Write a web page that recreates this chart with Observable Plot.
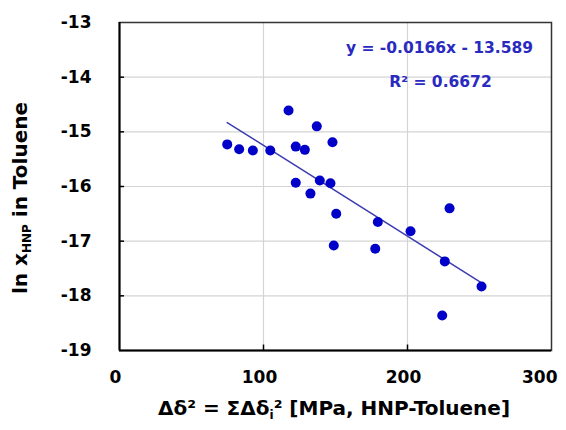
<!DOCTYPE html>
<html>
<head>
<meta charset="utf-8">
<script src="https://cdn.jsdelivr.net/npm/d3@7"></script>
<script src="https://cdn.jsdelivr.net/npm/@observablehq/plot@0.6"></script>
<style>
  html, body { margin: 0; padding: 0; background: #fff; }
  #chart { width: 566px; height: 430px; }
</style>
</head>
<body>
<div id="chart"></div>
<script>
// Δδ² values (x) and ln x_HNP (y)
const deltaSq = [74.8, 83.1, 92.6, 104.7, 117.4, 122.4, 128.7, 137.0, 147.9, 122.4, 132.6,
                 139.1, 146.5, 150.5, 148.8, 179.4, 177.6, 202.1, 229.2, 225.9, 224.1, 251.4];
const lnX = [-15.23, -15.32, -15.34, -15.34, -14.61, -15.27, -15.33, -14.90, -15.19, -15.93, -16.13,
             -15.89, -15.94, -16.50, -17.08, -16.65, -17.14, -16.82, -16.40, -17.37, -18.36, -17.83];
const fitSlope = -0.0166;
const fitIntercept = -13.589;
const fitLabels = ["y = -0.0166x - 13.589", "R² = 0.6672"];
const xTicks = [0, 100, 200, 300];
const yTicks = [-13, -14, -15, -16, -17, -18, -19];

const points = deltaSq.map((x, i) => ({x, y: lnX[i]}));
const xMin = d3.min(deltaSq), xMax = d3.max(deltaSq);
const fitLine = [xMin, xMax].map(x => ({x, y: fitSlope * x + fitIntercept}));

const font = "'DejaVu Sans', Verdana, sans-serif";
const blue = "#0000c8";

const svg = Plot.plot({
  width: 566,
  height: 430,
  marginLeft: 119,
  marginRight: 15,
  marginTop: 22,
  marginBottom: 80,
  style: {fontFamily: font, fontSize: "17px", fontWeight: "bold", color: "#000", background: "#fff"},
  x: {domain: [0, 300]},
  y: {domain: [-19, -13]},
  marks: [
    Plot.gridX([100, 200], {stroke: "#d4d4d4", strokeOpacity: 1, strokeWidth: 1.2}),
    Plot.gridY([-14, -15, -16, -17, -18], {stroke: "#d4d4d4", strokeOpacity: 1, strokeWidth: 1.2}),
    Plot.frame({stroke: "#333", strokeWidth: 1.5}),
    Plot.ruleX([0], {stroke: "#000", strokeWidth: 2}),
    Plot.ruleY([-19], {stroke: "#000", strokeWidth: 2}),
    // inside tick marks
    Plot.ruleY(yTicks.slice(1, -1), {x1: 0, x2: 3.5, stroke: "#000", strokeWidth: 1.5}),
    Plot.ruleX([100, 200], {y1: -19, y2: -18.9, stroke: "#000", strokeWidth: 1.5}),
    Plot.axisY(yTicks, {tickSize: 0, tickPadding: 28, tickFormat: d => d, fontSize: 17, fontWeight: "bold", label: null}),
    Plot.axisX(xTicks.slice(0, 3), {tickSize: 0, tickPadding: 20, dx: -4, fontSize: 17, fontWeight: "bold", label: null}),
    Plot.axisX([300], {tickSize: 0, tickPadding: 20, textAnchor: "end", dx: 6, fontSize: 17, fontWeight: "bold", label: null}),
    Plot.line(fitLine, {x: "x", y: "y", stroke: "#3c3cb0", strokeWidth: 1.5}),
    Plot.dot(points, {x: "x", y: "y", r: 5, fill: blue, stroke: "none"}),
    Plot.text([fitLabels[0]], {frameAnchor: "top-right", lineAnchor: "middle", dx: -112, dy: 26, textAnchor: "middle", fill: "#2a2ac0", fontSize: 15.5, fontWeight: "bold"}),
    Plot.text([fitLabels[1]], {frameAnchor: "top-right", lineAnchor: "middle", dx: -111, dy: 60, textAnchor: "middle", fill: "#2a2ac0", fontSize: 15.5, fontWeight: "bold"})
  ]
});

const s = d3.select(svg);
// y axis title with subscript
const yt = s.append("text")
  .attr("transform", "translate(27,198) rotate(-90)")
  .attr("text-anchor", "middle")
  .attr("font-family", font)
  .attr("font-size", 20)
  .attr("font-weight", "bold")
  .attr("fill", "#000");
yt.append("tspan").text("ln x");
yt.append("tspan").attr("font-size", 12).attr("dy", 4).text("HNP");
yt.append("tspan").attr("dy", -4).text(" in Toluene");

// x axis title
const xt = s.append("text")
  .attr("x", 334)
  .attr("y", 415)
  .attr("text-anchor", "middle")
  .attr("font-family", font)
  .attr("font-size", 20)
  .attr("font-weight", "bold")
  .attr("fill", "#000");
xt.append("tspan").text("Δδ² = ΣΔδ");
xt.append("tspan").attr("font-size", 12).attr("dy", 4).text("i");
xt.append("tspan").attr("dy", -4).text("² [MPa, HNP-Toluene]");

document.getElementById("chart").appendChild(svg);
</script>
</body>
</html>
